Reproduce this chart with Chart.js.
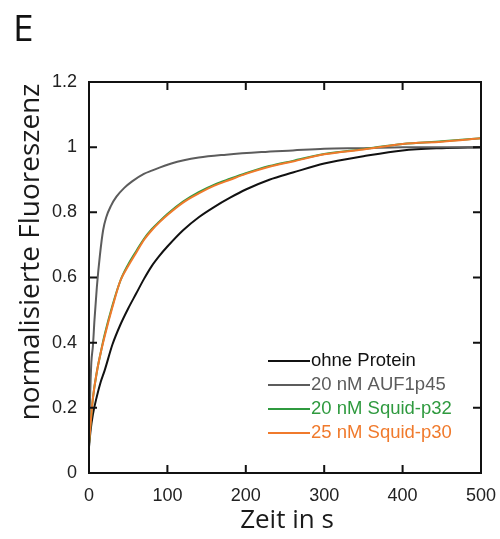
<!DOCTYPE html>
<html>
<head>
<meta charset="utf-8">
<script src="https://cdn.jsdelivr.net/npm/chart.js@4.4.0/dist/chart.umd.min.js"></script>
<style>
	html, body { margin: 0; padding: 0; background: #fff; }
	#wrap { position: relative; width: 500px; height: 539px; }
	#panel { position: absolute; left: 13px; top: 1px; font: 37px 'Open Sans', sans-serif; color: #111; }
</style>
</head>
<body>
<div id="wrap">
	<canvas id="myChart" width="500" height="539"></canvas>
	<div id="panel">E</div>
</div>
<script>
/* Values. */
const timeMain = [0, 2, 5, 10, 15, 20, 30, 40, 50, 60, 70, 80, 90, 100, 120, 140, 160, 180, 200, 230, 260, 300, 350, 400, 450, 500];
const ohneProtein = [0.08, 0.13, 0.18, 0.235, 0.28, 0.315, 0.395, 0.455, 0.505, 0.55, 0.595, 0.635, 0.667, 0.695, 0.745, 0.785, 0.817, 0.845, 0.87, 0.9, 0.922, 0.95, 0.972, 0.99, 0.997, 1.0];
const squidP32 = [0.09, 0.15, 0.23, 0.31, 0.37, 0.425, 0.515, 0.59, 0.64, 0.68, 0.718, 0.748, 0.772, 0.795, 0.833, 0.862, 0.885, 0.903, 0.92, 0.942, 0.958, 0.979, 0.994, 1.01, 1.018, 1.027];
const squidP30 = [0.09, 0.15, 0.23, 0.31, 0.37, 0.42, 0.51, 0.59, 0.635, 0.675, 0.715, 0.745, 0.77, 0.792, 0.83, 0.858, 0.882, 0.9, 0.918, 0.94, 0.956, 0.978, 0.993, 1.01, 1.017, 1.027];
const timeAuf = [0, 1, 2, 3, 5, 7, 10, 14, 18, 22, 28, 35, 45, 55, 70, 80, 105, 140, 175, 220, 260, 300, 350, 400, 450, 500];
const auf1p45 = [0.1, 0.2, 0.28, 0.34, 0.39, 0.47, 0.57, 0.67, 0.745, 0.785, 0.82, 0.848, 0.875, 0.895, 0.918, 0.928, 0.95, 0.968, 0.977, 0.985, 0.99, 0.995, 0.997, 1.0, 1.0, 1.0];

const xTicks = [0, 100, 200, 300, 400, 500];
const yTicks = [0, 0.2, 0.4, 0.6, 0.8, 1, 1.2];

const seriesLabels = ['ohne Protein', '20 nM AUF1p45', '20 nM Squid-p32', '25 nM Squid-p30'];
const seriesColors = ['#111111', '#5c5c5c', '#2f9a3f', '#f07a2c'];

function toPoints(xs, ys) {
	return xs.map((x, i) => ({ x: x, y: ys[i] }));
}

// Frame, inward ticks on all sides, axis titles and the legend
const framePlugin = {
	id: 'frame',
	afterDraw(chart) {
		const ctx = chart.ctx;
		const a = chart.chartArea;
		const xs = chart.scales.x;
		const ys = chart.scales.y;
		ctx.save();
		ctx.strokeStyle = '#111';
		ctx.lineWidth = 2;
		ctx.strokeRect(a.left, a.top, a.right - a.left, a.bottom - a.top);
		ctx.beginPath();
		xTicks.slice(1, -1).forEach((v) => {
			const px = xs.getPixelForValue(v);
			ctx.moveTo(px, a.bottom); ctx.lineTo(px, a.bottom - 8);
			ctx.moveTo(px, a.top); ctx.lineTo(px, a.top + 8);
		});
		yTicks.slice(1, -1).forEach((v) => {
			const py = ys.getPixelForValue(v);
			ctx.moveTo(a.left, py); ctx.lineTo(a.left + 8, py);
			ctx.moveTo(a.right, py); ctx.lineTo(a.right - 8, py);
		});
		ctx.stroke();

		// axis titles
		ctx.fillStyle = '#1a1a1a';
		ctx.textAlign = 'center';
		ctx.textBaseline = 'middle';
		ctx.font = "26px 'Open Sans', sans-serif";
		ctx.fillText('Zeit in s', (a.left + a.right) / 2 + 2, 521);
		ctx.translate(31, 252);
		ctx.rotate(-Math.PI / 2);
		ctx.font = "28px 'Open Sans', sans-serif";
		ctx.fillText('normalisierte Fluoreszenz', 0, 0);
		ctx.restore();

		// legend
		ctx.save();
		ctx.font = "18.5px 'Liberation Sans', Arial, sans-serif";
		ctx.textAlign = 'left';
		ctx.textBaseline = 'middle';
		seriesLabels.forEach((label, i) => {
			const y = 361 + i * 24;
			ctx.strokeStyle = seriesColors[i];
			ctx.lineWidth = 2;
			ctx.beginPath();
			ctx.moveTo(268, y); ctx.lineTo(310, y);
			ctx.stroke();
			ctx.fillStyle = seriesColors[i];
			ctx.fillText(label, 311, y);
		});
		ctx.restore();
	},
};

const lineStyle = {
	borderWidth: 2,
	pointRadius: 0,
	fill: false,
	cubicInterpolationMode: 'monotone',
};

const chartContainer = document.getElementById('myChart').getContext('2d');
const myChart = new Chart(chartContainer, {
	type: 'line',
	data: {
		datasets: [
			{ ...lineStyle, label: seriesLabels[0], data: toPoints(timeMain, ohneProtein), borderColor: seriesColors[0], order: 3 },
			{ ...lineStyle, label: seriesLabels[1], data: toPoints(timeAuf, auf1p45), borderColor: seriesColors[1], order: 2 },
			{ ...lineStyle, label: seriesLabels[2], data: toPoints(timeMain, squidP32), borderColor: seriesColors[2], order: 1 },
			{ ...lineStyle, label: seriesLabels[3], data: toPoints(timeMain, squidP30), borderColor: seriesColors[3], order: 0 },
		],
	},
	options: {
		responsive: false,
		animation: false,
		layout: { padding: { left: 0, top: 82, right: 19, bottom: 0 } },
		scales: {
			x: {
				type: 'linear',
				min: 0,
				max: 500,
				afterFit: (s) => { s.height = 66; s.paddingLeft = 0; s.paddingRight = 0; },
				afterBuildTicks: (s) => { s.ticks = xTicks.map((v) => ({ value: v })); },
				grid: { display: false, drawTicks: false },
				border: { display: false },
				ticks: { padding: 12, color: '#222', font: { family: "'Liberation Sans', Arial, sans-serif", size: 18 } },
			},
			y: {
				min: 0,
				max: 1.2,
				afterFit: (s) => { s.width = 89; s.paddingTop = 0; s.paddingBottom = 0; },
				afterBuildTicks: (s) => { s.ticks = yTicks.map((v) => ({ value: v })); },
				grid: { display: false, drawTicks: false },
				border: { display: false },
				ticks: {
					padding: 12,
					color: '#222',
					font: { family: "'Liberation Sans', Arial, sans-serif", size: 18 },
					callback: (v) => String(parseFloat(v.toFixed(1))),
				},
			},
		},
		plugins: {
			legend: { display: false },
			tooltip: { enabled: false },
		},
	},
	plugins: [framePlugin],
});
</script>
</body>
</html>
